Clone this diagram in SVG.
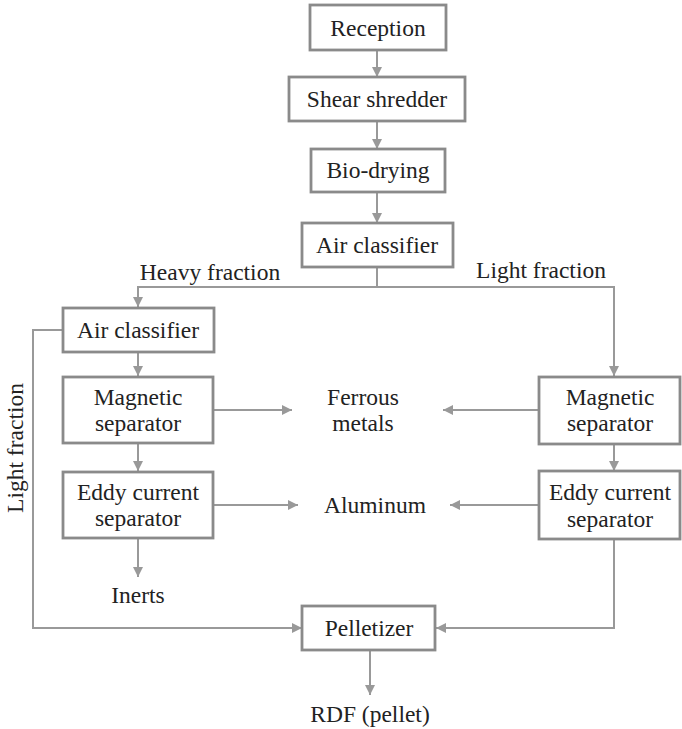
<svg xmlns="http://www.w3.org/2000/svg" width="682" height="729" viewBox="0 0 682 729">
  <style>
    .box { fill: #ffffff; stroke: #8a8a8a; stroke-width: 2.8; }
    .line { fill: none; stroke: #999999; stroke-width: 2; }
    text { font-family: "Liberation Serif", "Times New Roman", serif; font-size: 23.5px; fill: #222222; text-anchor: middle; }
  </style>
  <defs>
    <marker id="arrow" viewBox="0 0 10 10" refX="10" refY="5" markerWidth="10" markerHeight="10" markerUnits="userSpaceOnUse" orient="auto">
      <path d="M0,0 L10,5 L0,10 Z" fill="#999999"/>
    </marker>
  </defs>
  <rect width="682" height="729" fill="#ffffff"/>

  <!-- flow lines and their labels -->
  <g id="connectors">
    <line class="line" x1="377" y1="50" x2="377" y2="77" marker-end="url(#arrow)"/>
    <line class="line" x1="377" y1="121" x2="377" y2="149" marker-end="url(#arrow)"/>
    <line class="line" x1="377" y1="192" x2="377" y2="223" marker-end="url(#arrow)"/>
    <polyline class="line" points="377,267 377,287 138,287 138,307" marker-end="url(#arrow)"/>
    <polyline class="line" points="377,287 614,287 614,376" marker-end="url(#arrow)"/>
    <line class="line" x1="138" y1="352" x2="138" y2="376" marker-end="url(#arrow)"/>
    <line class="line" x1="138" y1="443" x2="138" y2="471" marker-end="url(#arrow)"/>
    <line class="line" x1="138" y1="538" x2="138" y2="577" marker-end="url(#arrow)"/>
    <line class="line" x1="213" y1="410" x2="292" y2="410" marker-end="url(#arrow)"/>
    <line class="line" x1="213" y1="505" x2="298" y2="505" marker-end="url(#arrow)"/>
    <line class="line" x1="539" y1="410" x2="443" y2="410" marker-end="url(#arrow)"/>
    <line class="line" x1="539" y1="505" x2="450" y2="505" marker-end="url(#arrow)"/>
    <line class="line" x1="614" y1="444" x2="614" y2="471" marker-end="url(#arrow)"/>
    <polyline class="line" points="63,330 33,330 33,628 302,628" marker-end="url(#arrow)"/>
    <polyline class="line" points="614,539 614,628 436,628" marker-end="url(#arrow)"/>
    <line class="line" x1="370" y1="650" x2="370" y2="695" marker-end="url(#arrow)"/>
    <text x="210" y="280">Heavy fraction</text>
    <text x="541" y="278">Light fraction</text>
    <text transform="translate(23,448) rotate(-90)" x="0" y="0">Light fraction</text>
  </g>

  <g id="reception">
    <rect class="box" x="310" y="5" width="136" height="45"/>
    <text x="378" y="36">Reception</text>
  </g>
  <g id="shear-shredder">
    <rect class="box" x="289" y="77" width="176" height="44"/>
    <text x="377" y="107">Shear shredder</text>
  </g>
  <g id="bio-drying">
    <rect class="box" x="311" y="149" width="134" height="43"/>
    <text x="378" y="178">Bio-drying</text>
  </g>
  <g id="air-classifier-1">
    <rect class="box" x="302" y="223" width="151" height="44"/>
    <text x="377" y="253">Air classifier</text>
  </g>
  <g id="air-classifier-2">
    <rect class="box" x="63" y="308" width="151" height="44"/>
    <text x="138" y="338">Air classifier</text>
  </g>
  <g id="magnetic-separator-left">
    <rect class="box" x="63" y="377" width="150" height="66"/>
    <text x="138" y="405">Magnetic</text>
    <text x="138" y="431">separator</text>
  </g>
  <g id="eddy-current-left">
    <rect class="box" x="63" y="472" width="150" height="66"/>
    <text x="138" y="500">Eddy current</text>
    <text x="138" y="526">separator</text>
  </g>
  <g id="inerts">
    <text x="138" y="603">Inerts</text>
  </g>
  <g id="ferrous-metals">
    <text x="363" y="405">Ferrous</text>
    <text x="363" y="431">metals</text>
  </g>
  <g id="aluminum">
    <text x="375" y="513">Aluminum</text>
  </g>
  <g id="magnetic-separator-right">
    <rect class="box" x="539" y="377" width="141" height="67"/>
    <text x="610" y="405">Magnetic</text>
    <text x="610" y="431">separator</text>
  </g>
  <g id="eddy-current-right">
    <rect class="box" x="539" y="471" width="141" height="68"/>
    <text x="610" y="500">Eddy current</text>
    <text x="610" y="527">separator</text>
  </g>
  <g id="pelletizer">
    <rect class="box" x="302" y="606" width="133" height="44"/>
    <text x="369" y="636">Pelletizer</text>
  </g>
  <g id="rdf-pellet">
    <text x="370" y="722">RDF (pellet)</text>
  </g>
</svg>
